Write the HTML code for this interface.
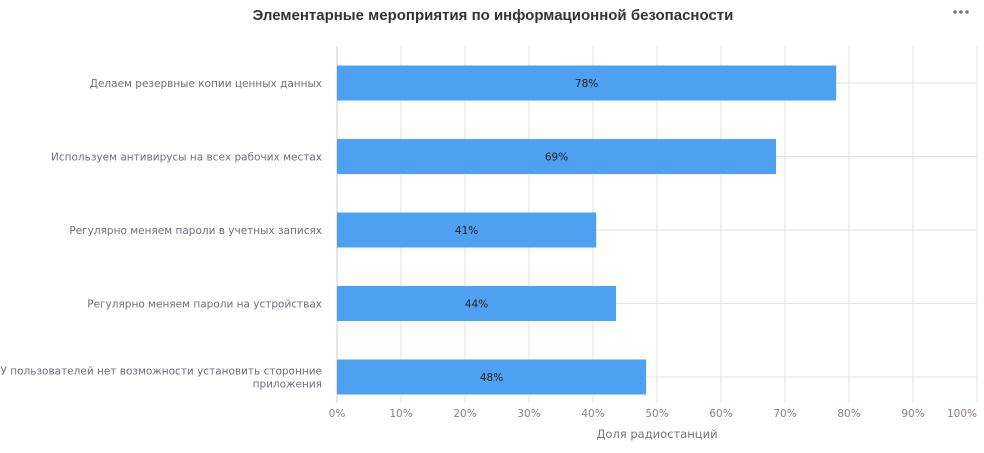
<!DOCTYPE html>
<html><head><meta charset="utf-8"><style>
body{margin:0;background:#fff;font-family:"Liberation Sans","DejaVu Sans",sans-serif;}
svg{display:block}
</style></head><body>
<svg id="chart" width="984" height="453">
<text x="493" y="20" text-anchor="middle" font-size="15" font-weight="bold" fill="#333">Элементарные мероприятия по информационной безопасности</text>
<g fill="#777"><circle cx="955" cy="12" r="1.8"/><circle cx="961" cy="12" r="1.8"/><circle cx="967" cy="12" r="1.8"/></g>
<g id="grid"></g><g id="bars"></g><g id="labels" font-family="'DejaVu Sans',sans-serif"></g>
<text x="657" y="438" text-anchor="middle" font-size="11.5" fill="#777" font-family="'DejaVu Sans',sans-serif">Доля радиостанций</text>
</svg>
<script>
const categories=[["Делаем резервные копии ценных данных"],["Используем антивирусы на всех рабочих местах"],["Регулярно меняем пароли в учетных записях"],["Регулярно меняем пароли на устройствах"],["У пользователей нет возможности установить сторонние","приложения"]];
const values=[78,68.6,40.5,43.6,48.3];
const valueLabels=["78%","69%","41%","44%","48%"];
const ticks=[0,10,20,30,40,50,60,70,80,90,100];
const NS="http://www.w3.org/2000/svg";
const x0=337,x1=977,plotTop=46.25,band=73.5;
const xs=v=>x0+(x1-x0)*v/100;
const yc=i=>plotTop+band*i+band/2;
function mk(t,a,p){const e=document.createElementNS(NS,t);for(const k in a)e.setAttribute(k,a[k]);p.appendChild(e);return e;}
const G=document.getElementById('grid'),B=document.getElementById('bars'),L=document.getElementById('labels');
ticks.forEach((t,k)=>{
 const l=mk('line',{x1:xs(t),x2:xs(t),y1:46,y2:403,stroke:t===0?'#ccc':'#e2e2e2','stroke-width':1},G);
 
 
 const last=k===ticks.length-1;
 const tx=mk('text',{x:last?x1:xs(t),y:417,'text-anchor':last?'end':'middle','font-size':10.5,fill:'#8a7f7f'},L);
 tx.textContent=t+'%';
 
 
});
values.forEach((v,i)=>{
 const h=mk('line',{x1:xs(v),x2:x1,y1:yc(i),y2:yc(i),stroke:'#e2e2e2'},G);
 
 
 const r=mk('rect',{x:xs(0),y:yc(i)-17.5,width:xs(v)-xs(0),height:35,fill:'#4da1f0'},B);
 
 
 const vt=mk('text',{x:(xs(0)+xs(v))/2,y:yc(i)+4,'text-anchor':'middle','font-size':10.5,fill:'#222'},L);
 vt.textContent=valueLabels[i];
 
 
 const lines=categories[i];
 lines.forEach((s,j)=>{
  const ct=mk('text',{x:322,y:yc(i)+4+(j-(lines.length-1)/2)*13,'text-anchor':'end','font-size':10.5,fill:'#6f6f7a'},L);
  ct.textContent=s;
  
  
 });
});
</script>
</body></html>
